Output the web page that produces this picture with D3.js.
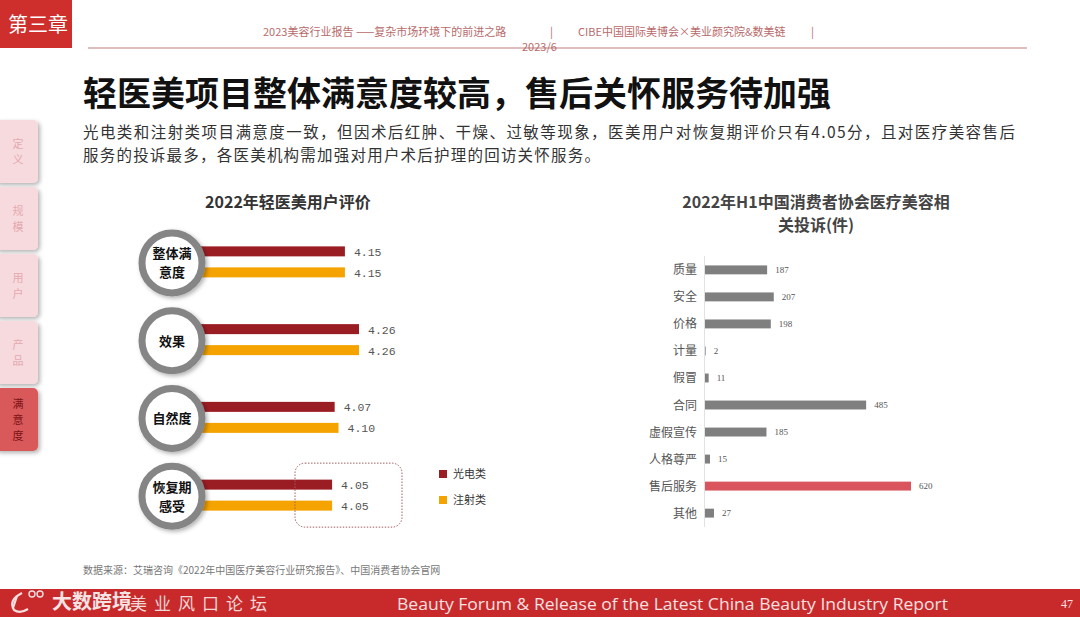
<!DOCTYPE html>
<html>
<head>
<meta charset="utf-8">
<title>轻医美项目整体满意度</title>
<script src="https://cdn.jsdelivr.net/npm/d3@7/dist/d3.min.js"></script>
<style type="text/css">
  body { margin: 0; background: #fff; }
  svg { display: block; font-family: "Noto Sans CJK SC", sans-serif; }
  .hdr { fill: #b86a6a; font-size: 11px; }
  .val { fill: #555; font-size: 11.5px; font-family: "Liberation Mono", monospace; }
  .cat { fill: #555; font-size: 12px; }
  .num { fill: #555; font-size: 9px; font-family: "Liberation Serif", serif; }
</style>
</head>
<body>
<script type="text/javascript">

// left chart: 2022 light medical beauty user ratings
var groups = ["整体满意度", "效果", "自然度", "恢复期感受"];
var groupLines = [["整体满", "意度"], ["效果"], ["自然度"], ["恢复期", "感受"]];
var guangdian = [4.15, 4.26, 4.07, 4.05];
var zhushe = [4.15, 4.26, 4.10, 4.05];
var seriesNames = ["光电类", "注射类"];

// right chart: complaints (cases)
var complaintCats = ["质量", "安全", "价格", "计量", "假冒", "合同", "虚假宣传", "人格尊严", "售后服务", "其他"];
var complaintVals = [187, 207, 198, 2, 11, 485, 185, 15, 620, 27];

var tabs = ["定义", "规模", "用户", "产品", "满意度"];

var width = 1080, height = 617;
var svg = d3.select("body").append("svg").attr("width", width).attr("height", height);

var defs = svg.append("defs");
var sh = defs.append("filter").attr("id", "shadow").attr("x", "-30%").attr("y", "-30%").attr("width", "160%").attr("height", "160%");
sh.append("feDropShadow").attr("dx", 2).attr("dy", 2).attr("stdDeviation", 2).attr("flood-color", "#000").attr("flood-opacity", 0.3);

// header
svg.append("rect").attr("x", 0).attr("y", 0).attr("width", 72).attr("height", 48).attr("fill", "#cf2f2c");
svg.append("text").attr("x", 8).attr("y", 32).attr("fill", "#fff").style("font-size", "20px").text("第三章");
svg.append("line").attr("x1", 88).attr("x2", 1027).attr("y1", 48).attr("y2", 48).attr("stroke", "#c27a7a").attr("stroke-width", 1);
svg.append("text").attr("class", "hdr").attr("x", 263).attr("y", 36).text("2023美容行业报告 ——复杂市场环境下的前进之路");
svg.append("text").attr("class", "hdr").attr("x", 550).attr("y", 36).text("|");
svg.append("text").attr("class", "hdr").attr("x", 578).attr("y", 36).text("CIBE中国国际美博会×美业颜究院&数美链");
svg.append("text").attr("class", "hdr").attr("x", 811).attr("y", 36).text("|");
svg.append("text").attr("class", "hdr").attr("x", 522).attr("y", 51).text("2023/6");

// title + intro
svg.append("text").attr("x", 83).attr("y", 106).attr("fill", "#111")
  .style("font-size", "34px").style("font-weight", "bold")
  .text("轻医美项目整体满意度较高，售后关怀服务待加强");
svg.append("text").attr("x", 83).attr("y", 138).attr("fill", "#333").style("font-size", "15.5px")
  .attr("textLength", 932).attr("lengthAdjust", "spacing")
  .text("光电类和注射类项目满意度一致，但因术后红肿、干燥、过敏等现象，医美用户对恢复期评价只有4.05分，且对医疗美容售后");
svg.append("text").attr("x", 83).attr("y", 161).attr("fill", "#333").style("font-size", "15.5px")
  .attr("textLength", 517).attr("lengthAdjust", "spacing")
  .text("服务的投诉最多，各医美机构需加强对用户术后护理的回访关怀服务。");

// side tabs
tabs.forEach(function(t, i) {
  var active = i === tabs.length - 1;
  var y0 = 120 + i * 67;
  svg.append("rect").attr("x", -6).attr("y", y0).attr("width", 44).attr("height", 63).attr("rx", 5)
    .attr("fill", active ? "#d9585a" : "#f7dadd").attr("filter", "url(#shadow)");
  var chars = t.split("");
  var lh = 16;
  var top = y0 + 31.5 - (chars.length - 1) * lh / 2;
  chars.forEach(function(c, j) {
    svg.append("text").attr("x", 18).attr("y", top + j * lh + 4).attr("text-anchor", "middle")
      .attr("fill", active ? "#7a1414" : "#e4a9b0").style("font-size", "11px").text(c);
  });
});

// ---- left chart ----
var x = d3.scaleLinear().domain([2.8, 4.26]).range([172, 359]);
var y = d3.scaleBand().domain(groups).range([223, 534]);
var colors = d3.scaleOrdinal().domain(seriesNames).range(["#9b1d24", "#f5a300"]);

svg.append("text").attr("x", 288).attr("y", 208).attr("text-anchor", "middle").attr("fill", "#333")
  .style("font-size", "16px").style("font-weight", "bold").text("2022年轻医美用户评价");

var left = svg.append("g");
var rows = groups.map(function(g, i) { return { g: g, lines: groupLines[i], a: guangdian[i], b: zhushe[i] }; });
var gr = left.selectAll("g.grp").data(rows).enter().append("g").attr("class", "grp")
  .attr("transform", function(d) { return "translate(0," + (y(d.g) + y.bandwidth() / 2) + ")"; });

gr.append("rect").attr("x", x(2.8)).attr("y", -15.5).attr("height", 10)
  .attr("width", function(d) { return x(d.a) - x(2.8); }).attr("fill", colors("光电类"));
gr.append("rect").attr("x", x(2.8)).attr("y", 5.5).attr("height", 10)
  .attr("width", function(d) { return x(d.b) - x(2.8); }).attr("fill", colors("注射类"));
gr.append("text").attr("class", "val").attr("x", function(d) { return x(d.a) + 9; }).attr("y", -6).text(function(d) { return d.a.toFixed(2); });
gr.append("text").attr("class", "val").attr("x", function(d) { return x(d.b) + 9; }).attr("y", 15).text(function(d) { return d.b.toFixed(2); });

gr.append("circle").attr("cx", 172).attr("cy", 1).attr("r", 30).attr("fill", "#fff")
  .attr("stroke", "#858585").attr("stroke-width", 7).attr("filter", "url(#shadow)");
gr.each(function(d) {
  var g = d3.select(this);
  var n = d.lines.length;
  d.lines.forEach(function(l, j) {
    g.append("text").attr("x", 172).attr("y", 1 + (j - (n - 1) / 2) * 19 + 5).attr("text-anchor", "middle")
      .attr("fill", "#111").style("font-size", "13px").style("font-weight", "bold").text(l);
  });
});

// dotted highlight box around 恢复期
var last = y(groups[3]) + y.bandwidth() / 2;
left.append("rect").attr("x", 295).attr("y", last - 32).attr("width", 107).attr("height", 64).attr("rx", 10)
  .attr("fill", "none").attr("stroke", "#a06060").attr("stroke-width", 1).attr("stroke-dasharray", "1.5,1.5");

// legend
seriesNames.forEach(function(s, i) {
  left.append("rect").attr("x", 439).attr("y", 470 + i * 26).attr("width", 8).attr("height", 8).attr("fill", colors(s));
  left.append("text").attr("x", 453).attr("y", 478 + i * 26).attr("fill", "#333").style("font-size", "11px").text(s);
});

// ---- right chart ----
svg.append("text").attr("x", 816).attr("y", 208).attr("text-anchor", "middle").attr("fill", "#444")
  .style("font-size", "16px").style("font-weight", "bold").text("2022年H1中国消费者协会医疗美容相");
svg.append("text").attr("x", 816).attr("y", 231).attr("text-anchor", "middle").attr("fill", "#444")
  .style("font-size", "16px").style("font-weight", "bold").text("关投诉(件)");

var rx = d3.scaleLinear().domain([0, 620]).range([705, 911]);
var ry = d3.scaleBand().domain(complaintCats).range([256.5, 526.5]).paddingInner(0.67).paddingOuter(0.33);

var right = svg.append("g");
right.append("line").attr("x1", 704.5).attr("x2", 704.5).attr("y1", 256).attr("y2", 527).attr("stroke", "#e2e2e2");
var rr = right.selectAll("g.r").data(complaintCats).enter().append("g").attr("class", "r");
rr.append("rect").attr("x", rx(0)).attr("y", function(d) { return ry(d); }).attr("height", ry.bandwidth())
  .attr("width", function(d, i) { return rx(complaintVals[i]) - rx(0); })
  .attr("fill", function(d) { return d === "售后服务" ? "#d9545c" : "#7f7f7f"; });
rr.append("text").attr("class", "cat").attr("x", 697).attr("text-anchor", "end")
  .attr("y", function(d) { return ry(d) + ry.bandwidth() / 2 + 4.5; }).text(function(d) { return d; });
rr.append("text").attr("class", "num").attr("x", function(d, i) { return rx(complaintVals[i]) + 8; })
  .attr("y", function(d) { return ry(d) + ry.bandwidth() / 2 + 3; }).text(function(d, i) { return complaintVals[i]; });

// source
svg.append("text").attr("x", 83).attr("y", 574).attr("fill", "#777").style("font-size", "10px")
  .text("数据来源：艾瑞咨询《2022年中国医疗美容行业研究报告》、中国消费者协会官网");

// footer band
svg.append("rect").attr("x", 0).attr("y", 589).attr("width", width).attr("height", 28).attr("fill", "#c8292b");
var logo = svg.append("g").attr("fill", "none").attr("stroke", "#f4dede").attr("stroke-width", 2.2);
logo.append("path").attr("d", "M22,593 Q8,600 14,610 Q20,614 28,609");
logo.append("path").attr("d", "M17,596 L13,608");
logo.append("circle").attr("cx", 32).attr("cy", 594).attr("r", 3).attr("stroke-width", 1.4);
logo.append("circle").attr("cx", 40).attr("cy", 594).attr("r", 3).attr("stroke-width", 1.4);
svg.append("text").attr("x", 52).attr("y", 609).attr("fill", "#f6e4e4").style("font-size", "20px").style("font-weight", "bold").text("大数跨境");
svg.append("text").attr("x", 130).attr("y", 610).attr("fill", "#f3d6d6").style("font-size", "17px").style("letter-spacing", "7px").text("美业风口论坛");
svg.append("text").attr("x", 397).attr("y", 610).attr("fill", "#f6e0e0").style("font-size", "17px")
  .style("font-family", "'Open Sans', sans-serif").attr("textLength", 551).attr("lengthAdjust", "spacingAndGlyphs")
  .text("Beauty Forum & Release of the Latest China Beauty Industry Report");
svg.append("text").attr("x", 1073).attr("y", 608).attr("text-anchor", "end").attr("fill", "#f6e0e0")
  .style("font-size", "12px").style("font-family", "'Liberation Serif', serif").text("47");

</script>
</body>
</html>
